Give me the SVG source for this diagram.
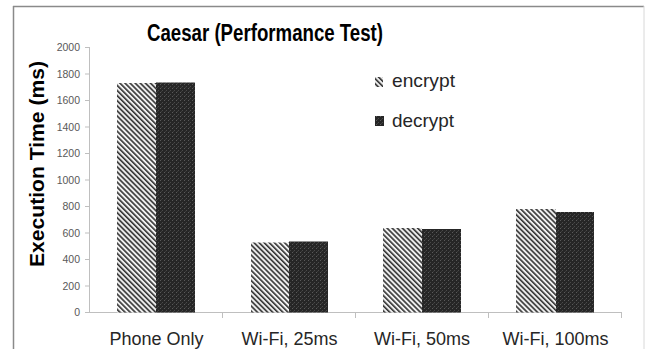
<svg xmlns="http://www.w3.org/2000/svg" width="648" height="349" viewBox="0 0 648 349">
<defs>
<pattern id="stripe" width="3.6" height="3.6" patternUnits="userSpaceOnUse" patternTransform="rotate(-45)">
<rect width="3.6" height="3.6" fill="#f0f0f0"/>
<rect width="1.6" height="3.6" fill="#333333"/>
</pattern>
<pattern id="check" width="4" height="4" patternUnits="userSpaceOnUse">
<rect width="4" height="4" fill="#262626"/>
<rect x="0" y="0" width="1" height="1" fill="#5a5a5a"/>
<rect x="2" y="2" width="1" height="1" fill="#4a4a4a"/>
<rect x="1" y="3" width="1" height="1" fill="#3c3c3c"/>
</pattern>
<style>
.tick{font-family:"Liberation Sans",Arial,sans-serif;font-size:10.5px;fill:#595959;text-anchor:end}
.cat{font-family:"Liberation Sans",Arial,sans-serif;font-size:18px;fill:#262626;text-anchor:middle}
.leg{font-family:"Liberation Sans",Arial,sans-serif;font-size:19px;fill:#262626}
.ax{stroke:#bfbfbf;stroke-width:1;fill:none}
.enc{fill:url(#stripe)}
.dec{fill:url(#check)}
</style>
</defs>
<rect width="648" height="349" fill="#ffffff"/>
<line x1="13.5" y1="6" x2="13.5" y2="349" stroke="#8a8a8a" stroke-width="1.5"/>
<line x1="13" y1="6.5" x2="644" y2="6.5" stroke="#8a8a8a" stroke-width="1.5"/>
<line x1="644" y1="6" x2="644" y2="349" stroke="#d8d8d8" stroke-width="1"/>

<text x="265" y="41" font-family="'Liberation Sans',Arial,sans-serif" font-size="23.5" font-weight="bold" fill="#000" text-anchor="middle" textLength="236" lengthAdjust="spacingAndGlyphs">Caesar (Performance Test)</text>
<text transform="translate(43.5,164) rotate(-90)" font-family="'Liberation Sans',Arial,sans-serif" font-size="19.5" font-weight="bold" fill="#000" text-anchor="middle" textLength="206" lengthAdjust="spacingAndGlyphs">Execution Time (ms)</text>

<g id="axes">
<line class="ax" x1="89.5" y1="48" x2="89.5" y2="313"/>
<line class="ax" x1="89.5" y1="312.5" x2="622" y2="312.5"/>
<path class="ax" d="M85 312.5H90M85 286H90M85 259.5H90M85 233H90M85 206.5H90M85 180H90M85 153.5H90M85 127H90M85 100.5H90M85 74H90M85 47.5H90"/>
<path class="ax" d="M222.5 313V318M355.5 313V318M488.5 313V318M621.5 313V318"/>
<text class="tick" x="80" y="316">0</text>
<text class="tick" x="80" y="289.5">200</text>
<text class="tick" x="80" y="263">400</text>
<text class="tick" x="80" y="236.5">600</text>
<text class="tick" x="80" y="210">800</text>
<text class="tick" x="80" y="183.5">1000</text>
<text class="tick" x="80" y="157">1200</text>
<text class="tick" x="80" y="130.5">1400</text>
<text class="tick" x="80" y="104">1600</text>
<text class="tick" x="80" y="77.5">1800</text>
<text class="tick" x="80" y="51">2000</text>
</g>

<g id="phone-only">
<rect class="enc" x="117" y="83" width="39" height="229.5"/>
<rect class="dec" x="156" y="82.5" width="39" height="230"/>
<text class="cat" x="156.5" y="345">Phone Only</text>
</g>
<g id="wifi-25ms">
<rect class="enc" x="251" y="242.5" width="38" height="70"/>
<rect class="dec" x="289" y="241.5" width="39" height="71"/>
<text class="cat" x="289.5" y="345">Wi-Fi, 25ms</text>
</g>
<g id="wifi-50ms">
<rect class="enc" x="383" y="228" width="39" height="84.5"/>
<rect class="dec" x="422" y="229" width="39" height="83.5"/>
<text class="cat" x="422" y="345">Wi-Fi, 50ms</text>
</g>
<g id="wifi-100ms">
<rect class="enc" x="516" y="209" width="40" height="103.5"/>
<rect class="dec" x="556" y="212" width="38" height="100.5"/>
<text class="cat" x="555.5" y="345">Wi-Fi, 100ms</text>
</g>

<g id="legend">
<rect class="enc" x="375" y="77" width="8" height="10"/>
<text class="leg" x="392" y="87" textLength="63" lengthAdjust="spacingAndGlyphs">encrypt</text>
<rect class="dec" x="375" y="116" width="9" height="10"/>
<text class="leg" x="392" y="127" textLength="62" lengthAdjust="spacingAndGlyphs">decrypt</text>
</g>
</svg>
